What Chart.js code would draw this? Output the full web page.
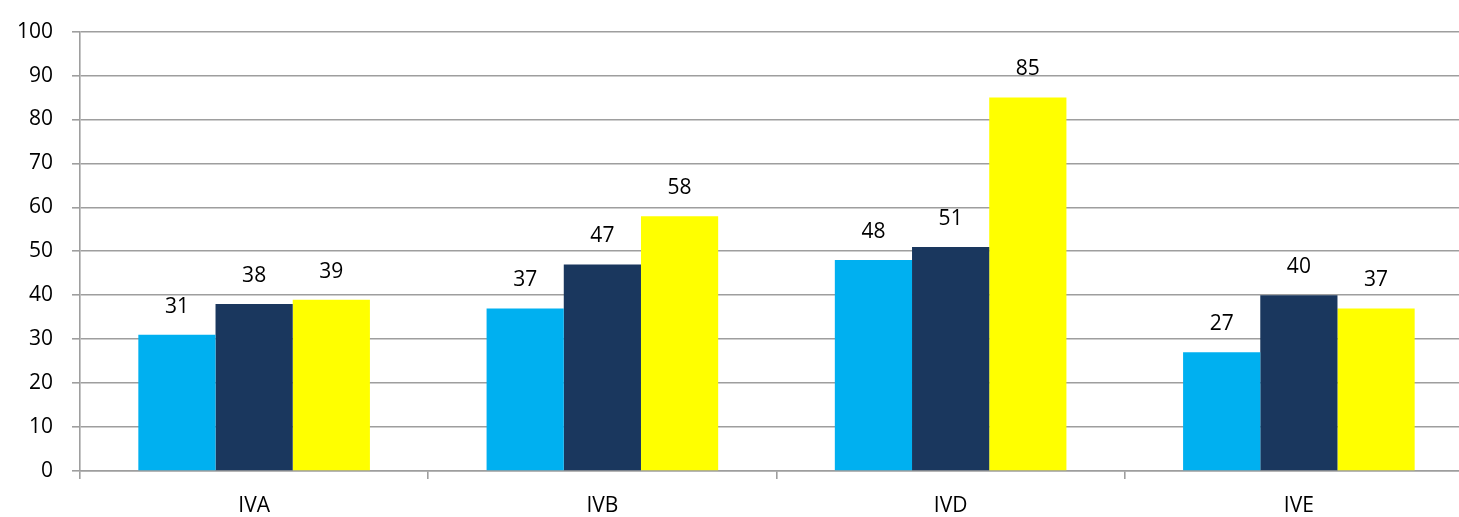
<!DOCTYPE html>
<html>
<head>
<meta charset="utf-8">
<script src="https://cdn.jsdelivr.net/npm/chart.js@4"></script>
<style>
  html, body { margin: 0; padding: 0; background: #fff; overflow: hidden; }
  #wrap { width: 1459px; height: 517px; overflow: hidden; }
</style>
</head>
<body>
<div id="wrap"><canvas id="barChart" width="1473" height="517"></canvas></div>
<script>
const categories = ['IVA', 'IVB', 'IVD', 'IVE'];
const series1 = [31, 37, 48, 27];
const series2 = [38, 47, 51, 40];
const series3 = [39, 58, 85, 37];
const yTicks = [0, 10, 20, 30, 40, 50, 60, 70, 80, 90, 100];

const gridGray = '#9e9e9e';
const font = { family: 'Open Sans', size: 21 };

// draw the value above every bar
const valueLabels = {
    id: 'valueLabels',
    afterDatasetsDraw(chart) {
        const ctx = chart.ctx;
        ctx.save();
        ctx.font = '21px "Open Sans"';
        ctx.fillStyle = '#000';
        ctx.textAlign = 'center';
        ctx.textBaseline = 'middle';
        chart.data.datasets.forEach((ds, i) => {
            chart.getDatasetMeta(i).data.forEach((bar, j) => {
                ctx.fillText(ds.data[j], bar.x, bar.y - 28);
            });
        });
        ctx.restore();
    }
};

const ctx = document.getElementById('barChart').getContext('2d');

new Chart(ctx, {
    type: 'bar',
    data: {
        labels: categories,
        datasets: [
            { label: 'Series 1', data: series1, backgroundColor: '#00b0f0' },
            { label: 'Series 2', data: series2, backgroundColor: '#1a375e' },
            { label: 'Series 3', data: series3, backgroundColor: '#ffff00' }
        ]
    },
    options: {
        responsive: false,
        animation: false,
        layout: { padding: { top: 22, right: 0, left: 0, bottom: 0 } },
        plugins: {
            legend: { display: false },
            tooltip: { enabled: false }
        },
        datasets: {
            bar: { categoryPercentage: 0.665, barPercentage: 1.0 }
        },
        scales: {
            x: {
                grid: {
                    offset: true,
                    drawOnChartArea: false,
                    tickLength: 8,
                    color: gridGray,
                    lineWidth: 1.6
                },
                border: { color: gridGray, width: 1.6 },
                ticks: { color: '#000', font: font, padding: 14 },
                afterFit(scale) { scale.height = 46; }
            },
            y: {
                min: 0,
                max: 100,
                afterBuildTicks(scale) { scale.ticks = yTicks.map(v => ({ value: v })); },
                grid: {
                    tickLength: 8,
                    color: gridGray,
                    lineWidth: 1.6
                },
                border: { color: gridGray, width: 1.6 },
                ticks: { color: '#000', font: font, padding: 19 },
                afterFit(scale) { scale.width = 80; }
            }
        }
    },
    plugins: [valueLabels]
});
</script>
</body>
</html>
